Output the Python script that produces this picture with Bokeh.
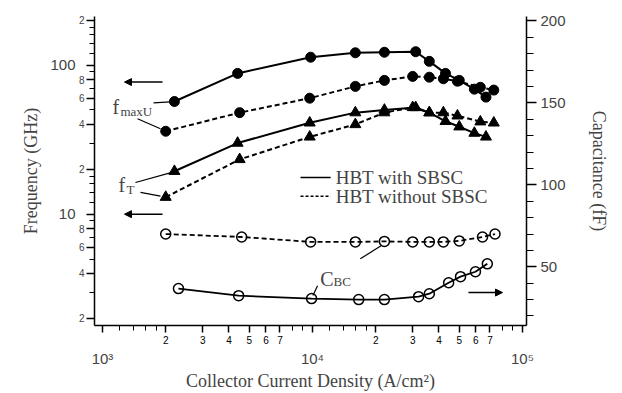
from bokeh.plotting import figure
from bokeh.models import Range1d, LinearAxis, LogAxis, FixedTicker, Label, Arrow, NormalHead, LinearScale
from bokeh.embed import file_html
from bokeh.resources import INLINE

# ---------------- data ----------------
fmax_with_x = [2.2e3, 4.4e3, 9.8e3, 1.6e4, 2.2e4, 3.1e4, 3.6e4, 4.3e4, 5.0e4, 5.9e4, 6.7e4]
fmax_with_y = [57, 88, 113, 121, 122, 123, 106, 88, 79, 69, 61]
fmax_wo_x = [2.0e3, 4.5e3, 9.7e3, 1.6e4, 2.2e4, 3.0e4, 3.6e4, 4.2e4, 4.9e4, 6.3e4, 7.3e4]
fmax_wo_y = [36, 48, 60, 72, 79, 84, 83, 81, 78, 71, 68]
ft_with_x = [2.2e3, 4.4e3, 9.7e3, 1.6e4, 2.2e4, 3.1e4, 3.6e4, 4.3e4, 5.0e4, 5.9e4, 6.7e4]
ft_with_y = [19.4, 30, 41, 48, 50, 52, 48, 42, 38.6, 35, 33]
ft_wo_x = [2.0e3, 4.5e3, 9.7e3, 1.6e4, 2.2e4, 3.0e4, 3.6e4, 4.2e4, 4.9e4, 6.3e4, 7.3e4]
ft_wo_y = [13, 23.3, 33, 40, 48, 52, 48, 48, 45.7, 41.7, 41]
cbc_with_x = [2.3e3, 4.45e3, 9.9e3, 1.66e4, 2.2e4, 3.2e4, 3.6e4, 4.45e4, 5.07e4, 5.97e4, 6.8e4]
cbc_with_y = [36.7, 32.4, 30.6, 30.0, 30.0, 31.8, 33.6, 40.3, 44, 47, 51.8]
cbc_wo_x = [2.0e3, 4.6e3, 9.8e3, 1.6e4, 2.2e4, 3.0e4, 3.6e4, 4.2e4, 5.0e4, 6.45e4, 7.4e4]
cbc_wo_y = [70, 68.2, 65.2, 65.2, 65.5, 65.2, 65.2, 65.2, 65.8, 68.2, 70]

# tick definitions
x_major = [1e3, 2e3, 3e3, 4e3, 5e3, 6e3, 7e3, 1e4, 2e4, 3e4, 4e4, 5e4, 6e4, 7e4, 1e5]
x_major_labels = ["", "2", "3", "4", "5", "6", "7", "", "2", "3", "4", "5", "6", "7", ""]
x_minor = [1.2e3, 1.4e3, 1.6e3, 1.8e3, 8e3, 9e3, 1.2e4, 1.4e4, 1.6e4, 1.8e4, 8e4, 9e4]
x_decades = [1e3, 1e4, 1e5]
x_decade_labels = ["10\u00b3", "10\u2074", "10\u2075"]
y_major = [2, 4, 6, 8, 10, 20, 40, 60, 80, 100, 200]
y_major_labels = ["2", "4", "6", "8", "", "2", "4", "6", "8", "", "2"]
y_minor = [3, 5, 7, 9, 12, 14, 16, 18, 30, 50, 70, 90, 120, 140, 160, 180]
y_decades = [10, 100]
y_decade_labels = ["10", "100"]
cap_major = [50, 100, 150, 200]
cap_minor = [20, 30, 40, 60, 70, 80, 90, 110, 120, 130, 140, 160, 170, 180, 190]

SANS = "Liberation Sans"
SERIF = "Liberation Serif"

p = figure(width=622, height=393, x_axis_type="log", y_axis_type="log",
           x_range=Range1d(916, 1.045e5), y_range=Range1d(1.79, 212),
           output_backend="svg", toolbar_location=None,
           min_border_left=94, min_border_right=96, min_border_top=16, min_border_bottom=66)
p.outline_line_color = None
p.grid.visible = False
p.extra_y_ranges = {"cap": Range1d(14.2, 202.7)}
p.extra_y_scales = {"cap": LinearScale()}

# bottom axis (small digits)
xa = p.xaxis[0]
xa.ticker = FixedTicker(ticks=x_major, minor_ticks=x_minor)
xa.major_label_overrides = {t: s for t, s in zip(x_major, x_major_labels)}
xa.major_label_text_font = SANS
xa.major_label_text_font_size = "10px"
xa.major_label_text_color = "black"
xa.major_tick_out = 7
xa.major_tick_in = 0
xa.minor_tick_out = 5
xa.minor_tick_in = 0
xa.major_label_standoff = 3
xa.axis_line_width = 1.5
xa.major_tick_line_width = 1.5

# second bottom axis for decade labels
xa2 = LogAxis(ticker=FixedTicker(ticks=x_decades, minor_ticks=[]),
              major_label_overrides={t: s for t, s in zip(x_decades, x_decade_labels)},
              axis_line_color=None, major_tick_line_color=None, minor_tick_line_color=None,
              major_tick_out=0, major_tick_in=0, minor_tick_out=0, minor_tick_in=0,
              major_label_text_font=SANS, major_label_text_font_size="15px",
              major_label_standoff=3,
              axis_label="Collector Current Density (A/cm\u00b2)",
              axis_label_text_font=SERIF, axis_label_text_font_style="normal",
              axis_label_text_font_size="18px", axis_label_standoff=1)
p.add_layout(xa2, "below")

# left axis (small digits)
ya = p.yaxis[0]
ya.ticker = FixedTicker(ticks=y_major, minor_ticks=y_minor)
ya.major_label_overrides = {t: s for t, s in zip(y_major, y_major_labels)}
ya.major_label_text_font = SANS
ya.major_label_text_font_size = "10px"
ya.major_tick_out = 8
ya.major_tick_in = 0
ya.minor_tick_out = 5
ya.minor_tick_in = 0
ya.major_label_standoff = 2
ya.axis_line_width = 1.5
ya.major_tick_line_width = 1.5

# second left axis for decade labels
ya2 = LogAxis(ticker=FixedTicker(ticks=y_decades, minor_ticks=[]),
              major_label_overrides={t: s for t, s in zip(y_decades, y_decade_labels)},
              axis_line_color=None, major_tick_line_color=None, minor_tick_line_color=None,
              major_tick_out=0, major_tick_in=0, minor_tick_out=0, minor_tick_in=0,
              major_label_text_font=SANS, major_label_text_font_size="15px",
              major_label_standoff=0,
              axis_label="Frequency (GHz)", axis_label_text_font=SERIF,
              axis_label_text_font_style="normal", axis_label_text_font_size="18px",
              axis_label_standoff=6)
p.add_layout(ya2, "left")

# right axis
ra = LinearAxis(y_range_name="cap", ticker=FixedTicker(ticks=cap_major, minor_ticks=cap_minor),
                major_label_text_font=SANS, major_label_text_font_size="15px",
                major_tick_out=10, major_tick_in=0, minor_tick_out=7, minor_tick_in=0,
                major_label_standoff=4, axis_line_width=1.5, major_tick_line_width=1.5,
                axis_label="Capacitance (fF)", axis_label_text_font=SERIF,
                axis_label_text_font_style="normal", axis_label_text_font_size="18px",
                axis_label_standoff=20)
p.add_layout(ra, "right")

DASH = "5 3"
# fmax
p.line(fmax_with_x, fmax_with_y, line_color="black", line_width=2)
p.scatter(fmax_with_x, fmax_with_y, marker="circle", size=10, color="black")
p.line(fmax_wo_x, fmax_wo_y, line_color="black", line_width=2, line_dash=DASH)
p.scatter(fmax_wo_x, fmax_wo_y, marker="circle", size=10, color="black")
# fT
p.line(ft_with_x, ft_with_y, line_color="black", line_width=2)
p.scatter(ft_with_x, ft_with_y, marker="triangle", size=11, color="black")
p.line(ft_wo_x, ft_wo_y, line_color="black", line_width=2, line_dash=DASH)
p.scatter(ft_wo_x, ft_wo_y, marker="triangle", size=11, color="black")
# CBC
p.line(cbc_with_x, cbc_with_y, line_color="black", line_width=1.8, y_range_name="cap")
p.scatter(cbc_with_x, cbc_with_y, marker="circle", size=10, fill_color=None,
          line_color="black", line_width=1.5, y_range_name="cap")
p.line(cbc_wo_x, cbc_wo_y, line_color="black", line_width=1.8, line_dash=DASH, y_range_name="cap")
p.scatter(cbc_wo_x, cbc_wo_y, marker="circle", size=10, fill_color=None,
          line_color="black", line_width=1.5, y_range_name="cap")

# ---------------- annotations ----------------
def sublabel(x, y, main, sub, xs, ys, rng="default", size="20px", subsize="13px"):
    p.add_layout(Label(x=x, y=y, text=main, text_font=SERIF, text_font_size=size,
                       text_baseline="alphabetic", y_range_name=rng))
    p.add_layout(Label(x=xs, y=ys, text=sub, text_font=SERIF, text_font_size=subsize,
                       text_baseline="alphabetic", y_range_name=rng))

sublabel(1116, 52.5, "f", "maxU", 1218, 48.6)
sublabel(1192, 15.6, "f", "T", 1301, 14.7)
sublabel(10.9e3, 42.7, "C", "BC", 12.6e3, 40.9, rng="cap")

# leader lines
p.line([1750, 2100], [55.8, 56.6], line_color="black", line_width=1.2)
p.line([1468, 1888], [43.7, 37.4], line_color="black", line_width=1.2)
p.line([1436, 2120], [16.3, 19.0], line_color="black", line_width=1.2)
p.line([1517, 1888], [14.0, 13.2], line_color="black", line_width=1.2)
p.line([10.57e3, 10.05e3], [38.5, 32.5], line_color="black", line_width=1.2, y_range_name="cap")
p.line([16.9e3, 21.3e3], [54.9, 63.0], line_color="black", line_width=1.2, y_range_name="cap")

# axis arrows
for yv in [77.0, 10.0]:
    p.add_layout(Arrow(end=NormalHead(size=7, fill_color="black", line_color="black"),
                       x_start=1931, y_start=yv, x_end=1273, y_end=yv, line_width=1.5))
p.add_layout(Arrow(end=NormalHead(size=7, fill_color="black", line_color="black"),
                   x_start=55.3e3, y_start=34.3, x_end=80.3e3, y_end=34.3, line_width=1.5,
                   y_range_name="cap"))

# legend
p.line([8770, 12.2e3], [17.65, 17.65], line_color="black", line_width=1.5)
p.line([8770, 12.2e3], [13.2, 13.2], line_color="black", line_width=1.5, line_dash="3 2")
p.add_layout(Label(x=12.9e3, y=17.65, text="HBT with SBSC", text_font=SERIF,
                   text_font_size="19px", text_baseline="middle"))
p.add_layout(Label(x=12.9e3, y=13.2, text="HBT without SBSC", text_font=SERIF,
                   text_font_size="19px", text_baseline="middle"))

open("out.html", "w").write(file_html(p, INLINE))
